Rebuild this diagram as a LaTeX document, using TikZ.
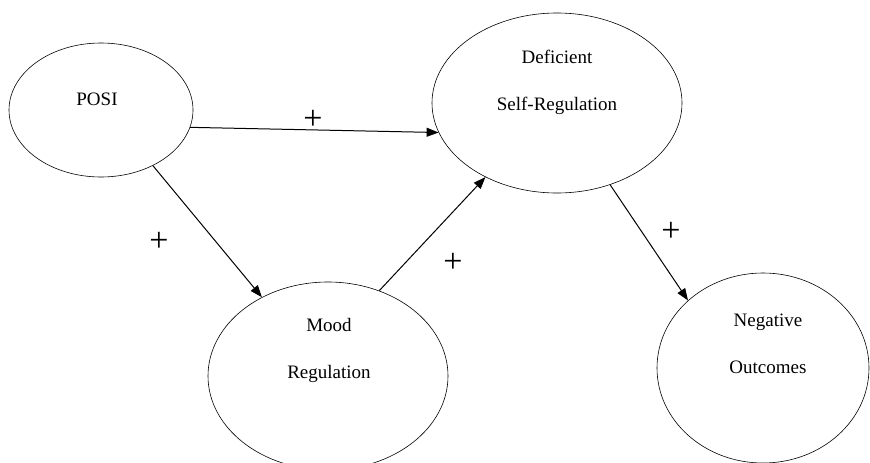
\documentclass[tikz,border=0pt]{standalone}
\usepackage{fontspec}
\setmainfont{Liberation Serif}
\usetikzlibrary{shapes.geometric, arrows.meta}

\begin{document}
\begin{tikzpicture}[x=1pt, y=-1pt, >={Triangle[length=12pt, width=9pt]},
                    factor/.style={ellipse, draw, line width=0.6pt, inner sep=0pt},
                    factortext/.style={align=center, font=\fontsize{19}{47}\selectfont},
                    sign/.style={font=\fontsize{34}{34}\selectfont, inner sep=0pt}]
                    \useasboundingbox (0, 0) rectangle (870, 463);

                    \node (POSI) [factor, minimum width=184pt, minimum height=134pt] at (101, 110) {};
                    \node (DSR) [factor, minimum width=250pt, minimum height=180pt] at (557, 103) {};
                    \node (MR) [factor, minimum width=240pt, minimum height=188pt] at (328, 376) {};
                    \node (NO) [factor, minimum width=212pt, minimum height=190pt] at (763, 368) {};

                    \node (POSItext) [factortext] at ([xshift=-4pt, yshift=11pt]POSI.center) {POSI};
                    \node (DSRtext) [factortext] at ([yshift=21pt]DSR.center) {Deficient\\Self-Regulation};
                    \node (MRtext) [factortext] at ([xshift=1pt, yshift=26pt]MR.center) {Mood\\Regulation};
                    \node (NOtext) [factortext] at ([xshift=5pt, yshift=24pt]NO.center) {Negative\\Outcomes};

                    \draw[line width=1pt] (POSI.-11) edge[->] (DSR.-166);
                    \draw[line width=1pt] (POSI.-47) edge[->] (MR.130);
                    \draw[line width=1pt] (MR.59) edge[->] (DSR.-134);
                    \draw[line width=1pt] (DSR.-57) edge[->] (NO.138);

                    \node (plusA) [sign] at (313, 120) {+};
                    \node (plusB) [sign] at (159, 242) {+};
                    \node (plusC) [sign] at (453, 263) {+};
                    \node (plusD) [sign] at (671, 232) {+};
                \end{tikzpicture}
\end{document}
